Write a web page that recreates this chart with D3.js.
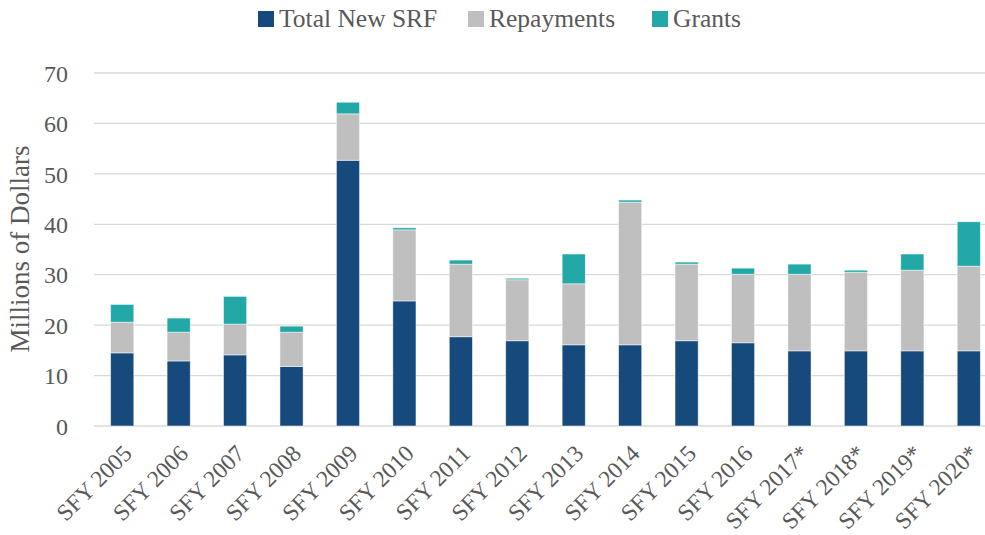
<!DOCTYPE html>
<html><head><meta charset="utf-8">
<script src="https://cdn.jsdelivr.net/npm/d3@7/dist/d3.min.js"></script>
<style>body{margin:0;background:#fff}svg{display:block}text{font-family:"Liberation Serif","DejaVu Serif",serif;fill:#595959}</style>
</head><body><svg id="c" width="985" height="535"></svg>
<script>
const categories = ["SFY 2005","SFY 2006","SFY 2007","SFY 2008","SFY 2009","SFY 2010","SFY 2011","SFY 2012","SFY 2013","SFY 2014","SFY 2015","SFY 2016","SFY 2017*","SFY 2018*","SFY 2019*","SFY 2020*"];
const totalNewSRF = [14.5,12.9,14.1,11.8,52.7,24.8,17.7,16.9,16.1,16.1,16.9,16.5,14.9,14.9,14.9,14.9];
const repayments  = [6.1,5.7,6.1,6.8,9.2,14.1,14.4,12.1,12.1,28.3,15.2,13.6,15.2,15.6,16.0,16.8];
const grants      = [3.5,2.8,5.5,1.2,2.3,0.4,0.8,0.3,5.9,0.4,0.4,1.2,2.0,0.4,3.2,8.8];
const seriesNames = ["Total New SRF","Repayments","Grants"];
const seriesColors = ["#174A7C","#BFBFBF","#23A8A8"];
const yTicks = [0,10,20,30,40,50,60,70];
const yTitle = "Millions of Dollars";

const svg = d3.select("#c");
const x = d3.scaleBand().domain(categories).range([94, 997]).paddingInner(0.59).paddingOuter(0.295);
const y = d3.scaleLinear().domain([0,70]).range([426, 73]);

const rows = categories.map((c,i)=>({cat:c, a:totalNewSRF[i], b:repayments[i], c2:grants[i]}));
const stack = d3.stack().keys(["a","b","c2"])(rows);

// grid
svg.append("g").selectAll("line").data(yTicks).join("line")
  .attr("x1",94).attr("x2",985).attr("y1",d=>y(d)).attr("y2",d=>y(d))
  .attr("stroke","#d9d9d9").attr("stroke-width",1.3);

// y axis labels
const yAxis = d3.axisLeft(y).tickValues(yTicks).tickSize(0).tickPadding(0);
const ga = svg.append("g").attr("transform","translate(68,0)").call(yAxis);
ga.select(".domain").remove();
ga.selectAll("text").attr("font-size",24).attr("fill","#595959").attr("font-family","Liberation Serif").attr("dy","0.34em");

// bars
svg.append("g").selectAll("g").data(stack).join("g").attr("fill",(d,i)=>seriesColors[i])
  .selectAll("rect").data(d=>d).join("rect")
  .attr("x",d=>x(d.data.cat)).attr("width",x.bandwidth())
  .attr("y",d=>y(d[1])).attr("height",d=>y(d[0])-y(d[1]))
  .attr("stroke","#ffffff").attr("stroke-opacity",0.6).attr("stroke-width",0.8);

// x labels
const xAxis = d3.axisBottom(x).tickSize(0).tickPadding(0);
const gx = svg.append("g").attr("transform","translate(0,426)").call(xAxis);
gx.select(".domain").remove();
gx.selectAll("text").attr("font-size",23.5).attr("fill","#595959").attr("font-family","Liberation Serif")
  .attr("text-anchor","end").attr("dy",null).attr("y",0)
  .attr("transform","translate(11,29) rotate(-45)");

// y title
svg.append("text").attr("transform","translate(29,249) rotate(-90)").attr("text-anchor","middle")
  .attr("font-size",27).text(yTitle);

// legend
const legX = [258, 468, 652];
const lg = svg.append("g").selectAll("g").data(seriesNames).join("g")
  .attr("transform",(d,i)=>`translate(${legX[i]},11)`);
lg.append("rect").attr("width",16).attr("height",16).attr("fill",(d,i)=>seriesColors[i]);
lg.append("text").attr("x",21).attr("y",16).attr("font-size",25.5).text(d=>d);
</script></body></html>
